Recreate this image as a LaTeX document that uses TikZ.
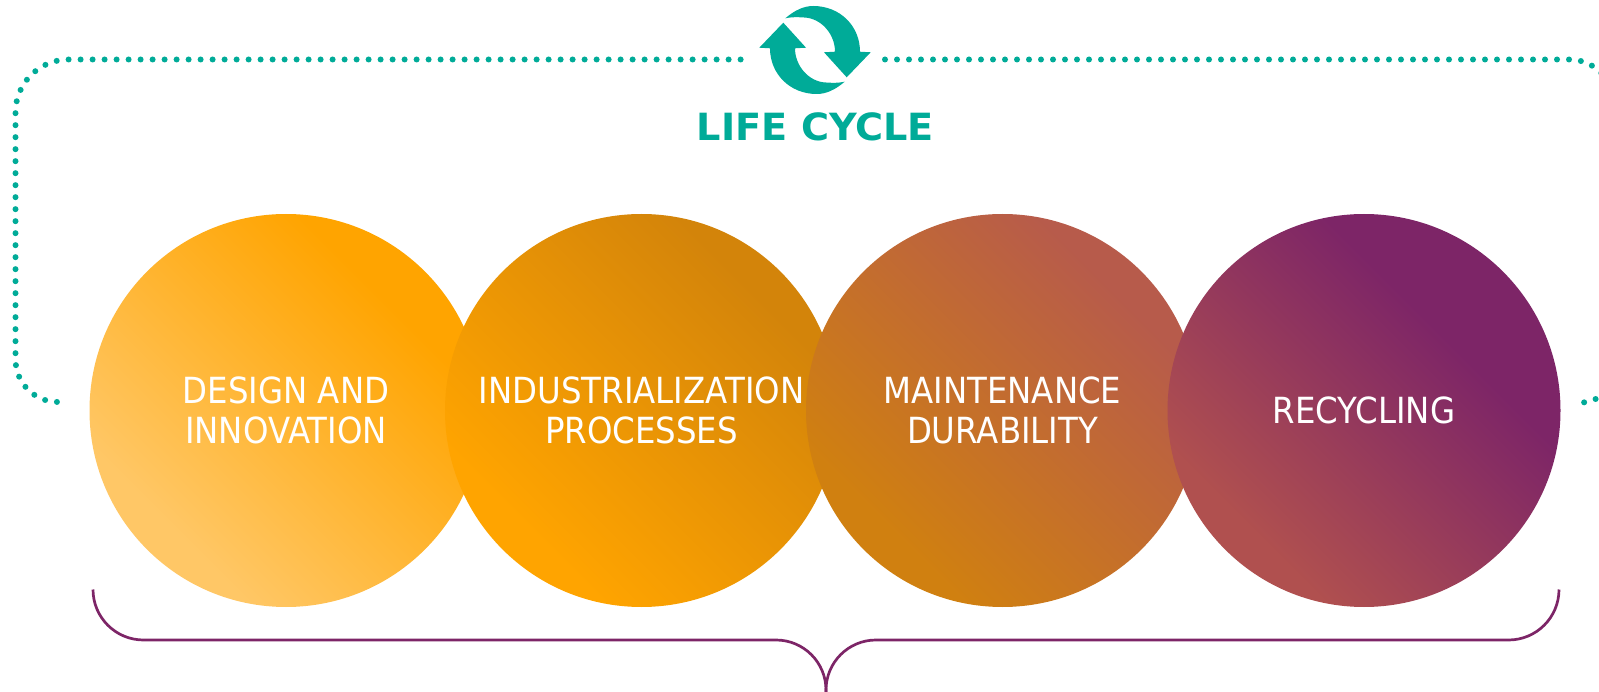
\documentclass[tikz,border=0pt]{standalone}
\usepackage{fontspec}
\setmainfont[FakeStretch=0.9]{DejaVu Sans}
\newfontfamily\lifefont[FakeStretch=1.02]{DejaVu Sans}
\definecolor{teal1}{HTML}{00AB98}
\definecolor{plum}{HTML}{7D2567}
\definecolor{cA1}{HTML}{FFC766}\definecolor{cA2}{HTML}{FFA400}
\definecolor{cB1}{HTML}{FFA400}\definecolor{cB2}{HTML}{D3840A}
\definecolor{cC1}{HTML}{D08010}\definecolor{cC2}{HTML}{B75B4B}
\definecolor{cD1}{HTML}{B0504F}\definecolor{cD2}{HTML}{7D2567}
\pgfdeclarehorizontalshading{shadeA}{100bp}{color(0bp)=(cA1); color(29bp)=(cA1); color(69bp)=(cA2); color(100bp)=(cA2)}
\pgfdeclarehorizontalshading{shadeB}{100bp}{color(0bp)=(cB1); color(29bp)=(cB1); color(71bp)=(cB2); color(100bp)=(cB2)}
\pgfdeclarehorizontalshading{shadeC}{100bp}{color(0bp)=(cC1); color(29bp)=(cC1); color(71bp)=(cC2); color(100bp)=(cC2)}
\pgfdeclarehorizontalshading{shadeD}{100bp}{color(0bp)=(cD1); color(29bp)=(cD1); color(64bp)=(cD2); color(100bp)=(cD2)}
\tikzset{
  ball/.style={circle,minimum size=393pt,inner sep=0pt,shading angle=45,align=center,text=white,font=\fontsize{36}{40}\selectfont},
  dotline/.style={line width=6pt,line cap=round,dash pattern=on 0pt off 12pt,teal1},
  bracket/.style={line width=2.7pt,plum},
  spin/.style={fill=teal1,draw=none}
}
\begin{document}
\begin{tikzpicture}[x=1pt,y=-1pt]
\clip (0,0) rectangle (1599,692);
\useasboundingbox (0,0) rectangle (1599,692);
\node[ball,shading=shadeA] (c1) at (286,410.5) {DESIGN AND\\INNOVATION};
\node[ball,shading=shadeB] (c2) at (641.5,410.5) {INDUSTRIALIZATION\\PROCESSES};
\node[ball,shading=shadeC] (c3) at (1002.5,410.5) {MAINTENANCE\\DURABILITY};
\node[ball,shading=shadeD] (c4) at (1364,410.5) {RECYCLING};
% life cycle icon
\coordinate (ic) at (815,50);
\foreach \r/\n in {0/a,180/b}{
\fill[spin,shift={(ic)},rotate=\r]
 (-29.7,-31.7) .. controls (-20,-40) and (-11,-44) .. (-1.7,-44)
 .. controls (25,-44) and (45,-24) .. (45,1.7)
 -- (55.7,2.3) -- (31.7,27.3) -- (9,2.3) -- (20,1.7)
 .. controls (20,-16) and (6,-32) .. (-11,-32.5)
 .. controls (-18,-33) and (-24,-33) .. cycle;
}
\node[text=teal1,inner sep=0pt,font=\lifefont\bfseries\fontsize{37.5}{40}\selectfont] (lc) at (815.5,127) {LIFE CYCLE};
% dotted loop
\coordinate (ls) at (740.6,59.5);
\coordinate (rs) at (885,59.5);
\draw[dotline] (ls) -- (68.5,59.5) arc[start angle=-90,end angle=-180,radius=53] -- (15.5,359.5) arc[start angle=180,end angle=90,radius=42.5];
\draw[dotline] (rs) -- (1569.5,59.5) arc[start angle=-90,end angle=0,radius=44] -- (1613.5,370) arc[start angle=0,end angle=90,radius=32.5];
% bracket
\coordinate (bl) at (93,589.5);
\coordinate (br) at (1559,589.5);
\coordinate (bm) at (826,692);
\draw[bracket] (bl) arc[start angle=180,end angle=90,radius=50.5] -- (776,640) arc[start angle=-90,end angle=0,radius=50] -- (bm);
\draw[bracket] (br) arc[start angle=0,end angle=90,radius=50.5] -- (876,640) arc[start angle=-90,end angle=-180,radius=50] -- (bm);
\end{tikzpicture}
\end{document}
